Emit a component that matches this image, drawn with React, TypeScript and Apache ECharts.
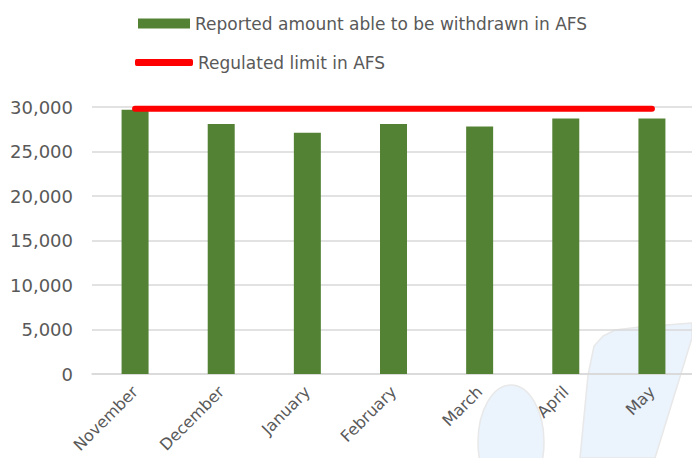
import React, { useEffect, useRef } from "react";
import * as echarts from "echarts";

const categories = ["November", "December", "January", "February", "March", "April", "May"];
const reportedAmount = [29700, 28100, 27100, 28100, 27800, 28700, 28700];
const regulatedLimit = [29800, 29800, 29800, 29800, 29800, 29800, 29800];
const seriesNames = ["Reported amount able to be withdrawn in AFS", "Regulated limit in AFS"];

const FONT = "DejaVu Sans";
const GRAY = "#595959";

export default function App() {
  const ref = useRef<HTMLDivElement>(null);
  useEffect(() => {
    if (!ref.current) return;
    const chart = echarts.init(ref.current, null, { renderer: "svg" });
    chart.setOption({
      animation: false,
      backgroundColor: "#ffffff",
      textStyle: { fontFamily: FONT },
      legend: [
        {
          data: [{ name: seriesNames[0], icon: "rect" }],
          left: 138,
          top: 15,
          padding: 0,
          itemWidth: 52,
          itemHeight: 10,
          textStyle: { color: GRAY, fontSize: 17, fontFamily: FONT },
        },
        {
          data: [{ name: seriesNames[1], icon: "roundRect", itemStyle: { color: "#ff0000" } }],
          left: 135,
          top: 54,
          padding: 0,
          itemWidth: 58,
          itemHeight: 7,
          textStyle: { color: GRAY, fontSize: 17, fontFamily: FONT },
        },
      ],
      grid: { left: 92, right: -3, top: 107, bottom: 84, containLabel: false, outerBoundsMode: "none" },
      xAxis: {
        type: "category",
        data: categories,
        axisLine: { lineStyle: { color: "#d9d9d9", width: 1.5 } },
        axisTick: { show: false },
        axisLabel: { rotate: 45, color: GRAY, fontSize: 16, fontFamily: FONT, margin: 15, interval: 0 },
      },
      yAxis: {
        type: "value",
        min: 0,
        max: 30000,
        interval: 5000,
        axisLine: { show: false },
        axisTick: { show: false },
        splitLine: { lineStyle: { color: "#d9d9d9", width: 1.5 } },
        axisLabel: {
          color: GRAY,
          fontSize: 18,
          fontFamily: FONT,
          margin: 19,
          formatter: (v: number) => v.toLocaleString("en-US"),
        },
      },
      series: [
        {
          name: seriesNames[0],
          type: "bar",
          data: reportedAmount,
          barWidth: 27,
          itemStyle: { color: "#548235" },
          z: 2,
        },
        {
          name: seriesNames[1],
          type: "line",
          data: regulatedLimit,
          symbol: "none",
          lineStyle: { color: "#ff0000", width: 6, cap: "round" },
          itemStyle: { color: "#ff0000" },
          z: 3,
        },
      ],
      graphic: [
        {
          type: "polygon",
          z: -10,
          shape: {
            points: [
              [580, 458], [588, 375], [594, 346], [603, 336], [615, 330], [640, 327], [692, 323], [692, 338], [655, 458],
            ],
          },
          style: { fill: "#ebf3fd", stroke: "#e8e8e8", lineWidth: 1.5 },
        },
        {
          type: "ellipse",
          z: -10,
          shape: { cx: 511, cy: 442, rx: 33, ry: 57 },
          style: { fill: "#ebf3fd", stroke: "#e8e8e8", lineWidth: 1.5 },
        },
      ],
    });
    return () => chart.dispose();
  }, []);
  return <div ref={ref} style={{ position: "fixed", left: 0, top: 0, width: 692, height: 458 }} />;
}
